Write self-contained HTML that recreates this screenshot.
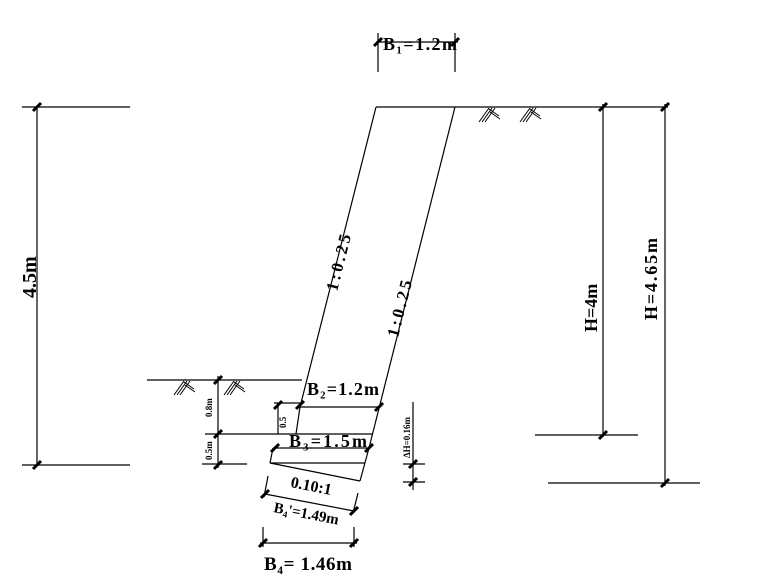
<!DOCTYPE html>
<html><head><style>body{margin:0;background:#fff}svg{display:block}text{font-family:"Liberation Serif",serif;fill:#000}</style></head><body>
<svg width="780" height="585" viewBox="0 0 780 585" xmlns="http://www.w3.org/2000/svg">
<defs>
<g id="tk"><line x1="-4" y1="4" x2="4" y2="-4" stroke="#000" stroke-width="3"/></g>
<g id="hz" stroke="#000" stroke-width="1" fill="none">
<path d="M-8 10 L2 -4 M-5 10 L5 -4 M-2 10 L8 -4 M2 -3 L12 4 M3 0 L13 7"/>
</g>
</defs>
<g stroke="#000" stroke-width="1.2" fill="none">
<line x1="376" y1="107" x2="668" y2="107"/>
<line x1="22" y1="107" x2="130" y2="107"/>
<line x1="37" y1="107" x2="37" y2="465"/>
<line x1="22" y1="465" x2="130" y2="465"/>
<line x1="376" y1="107" x2="300" y2="407"/>
<line x1="455" y1="107" x2="369" y2="448"/>
<line x1="300" y1="407" x2="296" y2="434"/>
<line x1="147" y1="380" x2="302" y2="380"/>
<line x1="300" y1="407" x2="380" y2="407"/>
<line x1="205" y1="434" x2="373" y2="434"/>
<line x1="273" y1="448" x2="369" y2="448"/>
<line x1="202" y1="464" x2="247" y2="464"/>
<line x1="273" y1="448" x2="270" y2="463"/>
<line x1="270" y1="463" x2="365" y2="463"/>
<line x1="270" y1="463" x2="360" y2="481"/>
<line x1="369" y1="448" x2="360" y2="481"/>
<line x1="378" y1="33" x2="378" y2="72"/>
<line x1="455" y1="33" x2="455" y2="72"/>
<line x1="376" y1="42" x2="458" y2="42"/>
<line x1="218" y1="376" x2="218" y2="468"/>
<line x1="278" y1="403" x2="278" y2="434"/>
<line x1="274" y1="403" x2="302" y2="403"/>
<line x1="413" y1="402" x2="413" y2="490"/>
<line x1="403" y1="464" x2="425" y2="464"/>
<line x1="403" y1="482" x2="425" y2="482"/>
<line x1="265" y1="494" x2="354" y2="511"/>
<line x1="268" y1="476" x2="264" y2="497"/>
<line x1="358" y1="493" x2="353" y2="513"/>
<line x1="263" y1="527" x2="263" y2="547"/>
<line x1="354" y1="527" x2="354" y2="547"/>
<line x1="260" y1="543" x2="357" y2="543"/>
<line x1="603" y1="104" x2="603" y2="437"/>
<line x1="535" y1="435" x2="638" y2="435"/>
<line x1="665" y1="104" x2="665" y2="486"/>
<line x1="548" y1="483" x2="700" y2="483"/>
</g>
<g>
<use href="#tk" x="378" y="42"/><use href="#tk" x="455" y="42"/>
<use href="#tk" x="37" y="107"/><use href="#tk" x="37" y="465"/>
<use href="#tk" x="218" y="380"/><use href="#tk" x="218" y="434"/><use href="#tk" x="218" y="465"/>
<use href="#tk" x="278" y="405"/><use href="#tk" x="300" y="405"/>
<use href="#tk" x="379" y="407"/><use href="#tk" x="275" y="448"/><use href="#tk" x="369" y="448"/>
<use href="#tk" x="413" y="464"/><use href="#tk" x="413" y="482"/>
<use href="#tk" x="265" y="494"/><use href="#tk" x="354" y="511"/>
<use href="#tk" x="263" y="543"/><use href="#tk" x="354" y="543"/>
<use href="#tk" x="603" y="107"/><use href="#tk" x="603" y="435"/>
<use href="#tk" x="665" y="107"/><use href="#tk" x="665" y="483"/>
<use href="#hz" x="487" y="112"/><use href="#hz" x="528" y="112"/>
<use href="#hz" x="182" y="385"/><use href="#hz" x="232" y="385"/>
</g>
<g font-weight="bold">
<text x="383" y="50" font-size="18" textLength="74">B₁=1.2m</text>
<text x="307" y="395" font-size="18" textLength="72">B₂=1.2m</text>
<text x="289" y="447" font-size="18" textLength="78">B₃=1.5m</text>
<text x="286" y="428" font-size="9" transform="rotate(-90 286 428)">0.5</text>
<text font-size="17" transform="translate(337 292) rotate(-76)" textLength="58">1:0.25</text>
<text font-size="17" transform="translate(398 338) rotate(-76)" textLength="58">1:0.25</text>
<text font-size="16" transform="translate(290 487) rotate(11)">0.10:1</text>
<text font-size="15" transform="translate(273 512) rotate(11)">B₄'=1.49m</text>
<text x="264" y="570" font-size="19" textLength="88">B₄= 1.46m</text>
<text font-size="20" transform="translate(36 298) rotate(-90)">4.5m</text>
<text font-size="18" transform="translate(597 332) rotate(-90)">H=4m</text>
<text font-size="18" transform="translate(657 320) rotate(-90)" textLength="82">H=4.65m</text>
<text font-size="9" transform="translate(212 417) rotate(-90)">0.8m</text>
<text font-size="9" transform="translate(212 460) rotate(-90)">0.5m</text>
<text font-size="9" transform="translate(410 458) rotate(-90)">ΔH=0.16m</text>
</g>
</svg>
</body></html>
